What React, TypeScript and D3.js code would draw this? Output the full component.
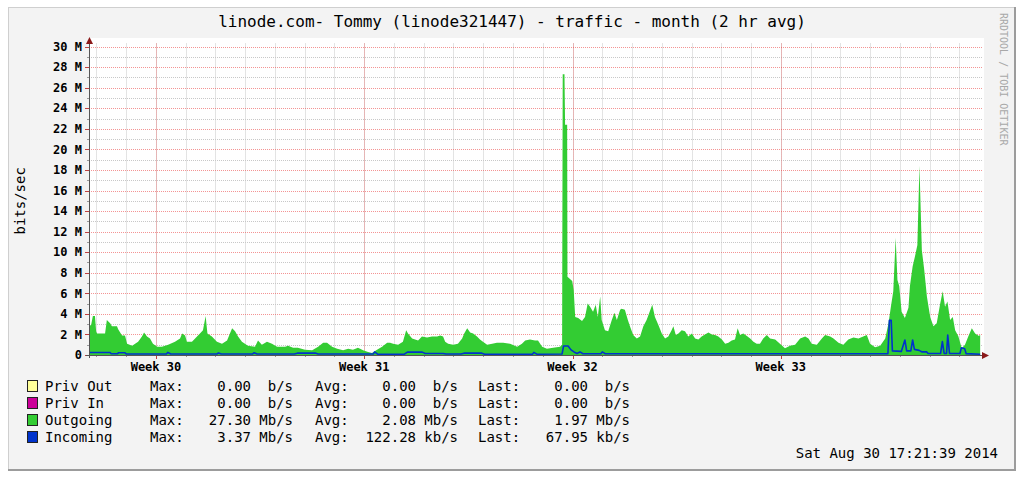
import React from "react";
import * as d3 from "d3";

const title = "linode.com- Tommy (linode321447) - traffic - month (2 hr avg)";
const yLabel = "bits/sec";
const watermark = "RRDTOOL / TOBI OETIKER";
const dateText = "Sat Aug 30 17:21:39 2014";

// y ticks in Mbit/s
const yMajorTicks = [0, 2, 4, 6, 8, 10, 12, 14, 16, 18, 20, 22, 24, 26, 28, 30];
const yMinorTicks = [1, 3, 5, 7, 9, 11, 13, 15, 17, 19, 21, 23, 25, 27, 29];

// time axis in days since start of graph
const weekLabels = ["Week 30", "Week 31", "Week 32", "Week 33"];
const weekStarts = [2.25, 9.25, 16.25, 23.25];
const dayStarts = [
  0.25, 1.25, 2.25, 3.25, 4.25, 5.25, 6.25, 7.25, 8.25, 9.25, 10.25, 11.25, 12.25, 13.25, 14.25,
  15.25, 16.25, 17.25, 18.25, 19.25, 20.25, 21.25, 22.25, 23.25, 24.25, 25.25, 26.25, 27.25,
  28.25, 29.25,
];

// Outgoing traffic [day, Mb/s]
const outgoing: [number, number][] = [
  [0, 2.9], [0.07, 2.9], [0.13, 3.8], [0.2, 3.8], [0.24, 2.3], [0.27, 2.1], [0.54, 2.1], [0.6, 3.4],
  [0.71, 3.1], [0.77, 2.8], [0.94, 2.8], [0.98, 2.5], [1.11, 1.9], [1.21, 1.9], [1.28, 1.1], [1.45, 0.9],
  [1.55, 1.1], [1.65, 1.3], [1.78, 1.8], [1.85, 2.2], [1.95, 1.8], [2.05, 1.6], [2.15, 1.1], [2.29, 0.8],
  [2.45, 0.8], [2.66, 1.0], [2.89, 1.3], [3.06, 1.6], [3.13, 2.1], [3.23, 1.9], [3.29, 1.3], [3.46, 1.3],
  [3.63, 1.8], [3.73, 2.1], [3.83, 2.4], [3.92, 3.8], [3.98, 2.1], [4.13, 1.8], [4.3, 1.3], [4.47, 1.1],
  [4.64, 1.4], [4.81, 2.6], [4.91, 2.3], [5.01, 1.8], [5.14, 1.3], [5.34, 0.9], [5.58, 0.8], [5.68, 1.4],
  [5.81, 1.0], [5.98, 1.3], [6.15, 1.1], [6.32, 0.8], [6.59, 0.8], [6.69, 0.9], [6.86, 0.7], [7.02, 0.7],
  [7.26, 0.5], [7.5, 0.45], [7.7, 0.8], [7.87, 1.2], [8.0, 1.2], [8.17, 0.8], [8.34, 0.6], [8.54, 0.45],
  [8.71, 0.6], [8.87, 0.5], [9.04, 0.7], [9.21, 0.45], [9.38, 0.3], [9.51, 0.2], [9.68, 0.5], [9.85, 0.8],
  [10.02, 1.2], [10.12, 1.2], [10.22, 1.1], [10.39, 1.0], [10.55, 1.3], [10.66, 2.4], [10.72, 2.1],
  [10.86, 1.6], [10.96, 1.5], [11.06, 1.4], [11.19, 1.8], [11.36, 1.7], [11.53, 1.8], [11.7, 1.8],
  [11.8, 1.9], [11.9, 1.8], [11.97, 1.3], [12.07, 1.1], [12.24, 1.0], [12.4, 1.1], [12.54, 1.6],
  [12.61, 2.1], [12.71, 2.6], [12.81, 2.2], [12.91, 2.1], [13.04, 1.8], [13.14, 1.5], [13.24, 1.3],
  [13.38, 1.0], [13.55, 1.1], [13.71, 1.2], [13.92, 1.2], [14.15, 1.1], [14.39, 0.8], [14.55, 1.1],
  [14.66, 1.4], [14.82, 1.5], [14.99, 1.4], [15.09, 1.4], [15.23, 0.8], [15.39, 0.6], [15.6, 0.7],
  [15.83, 0.8], [15.9, 1.0], [15.92, 27.3], [15.98, 27.3], [16.0, 22.4], [16.07, 22.4], [16.08, 7.6],
  [16.24, 7.2], [16.29, 6.3], [16.34, 3.7], [16.44, 3.6], [16.57, 3.3], [16.67, 3.7], [16.76, 5.0],
  [16.84, 4.7], [16.94, 4.2], [17.03, 4.9], [17.1, 3.7], [17.18, 5.7], [17.23, 3.4], [17.34, 2.4],
  [17.45, 2.3], [17.57, 3.4], [17.66, 4.1], [17.74, 3.4], [17.85, 4.4], [17.9, 4.5], [18.01, 4.4],
  [18.11, 3.4], [18.18, 2.8], [18.29, 1.95], [18.41, 1.6], [18.52, 1.8], [18.63, 2.8], [18.74, 3.4],
  [18.83, 4.1], [18.93, 4.9], [19.02, 3.7], [19.14, 2.9], [19.25, 2.1], [19.36, 1.6], [19.47, 1.8],
  [19.58, 2.4], [19.64, 2.8], [19.72, 1.95], [19.81, 2.1], [19.92, 2.4], [20.03, 2.3], [20.14, 1.8],
  [20.26, 2.1], [20.37, 1.6], [20.48, 1.5], [20.59, 1.8], [20.7, 2.0], [20.82, 2.2], [20.93, 2.0],
  [21.04, 1.95], [21.15, 1.8], [21.27, 1.5], [21.38, 1.1], [21.49, 1.2], [21.6, 1.4], [21.71, 1.5],
  [21.8, 2.6], [21.88, 1.95], [21.99, 2.1], [22.11, 1.85], [22.22, 1.6], [22.33, 1.3], [22.44, 1.1],
  [22.55, 1.1], [22.66, 1.6], [22.78, 1.95], [22.89, 1.6], [23.06, 1.5], [23.26, 1.0], [23.39, 0.65],
  [23.56, 0.9], [23.73, 1.0], [23.9, 1.6], [24.07, 1.8], [24.18, 1.6], [24.29, 1.1], [24.46, 1.0],
  [24.63, 1.6], [24.74, 1.95], [24.91, 1.8], [25.02, 1.6], [25.19, 1.2], [25.35, 1.0], [25.52, 1.5],
  [25.69, 1.7], [25.86, 1.6], [26.02, 1.8], [26.14, 1.95], [26.25, 1.1], [26.42, 0.75], [26.59, 0.9],
  [26.76, 1.6], [26.87, 3.1], [26.95, 4.7], [27.03, 6.2], [27.11, 11.4], [27.17, 7.3], [27.23, 6.7],
  [27.31, 4.2], [27.42, 3.6], [27.54, 4.6], [27.59, 6.7], [27.68, 8.6], [27.76, 9.6], [27.84, 10.7],
  [27.91, 18.4], [27.99, 10.2], [28.07, 8.3], [28.16, 5.7], [28.27, 3.7], [28.38, 2.8], [28.49, 3.1],
  [28.6, 4.9], [28.69, 6.2], [28.77, 4.7], [28.85, 5.2], [28.94, 3.4], [29.03, 3.7], [29.11, 2.4],
  [29.22, 1.8], [29.33, 0.65], [29.44, 1.0], [29.55, 1.8], [29.67, 2.6], [29.78, 2.1], [29.91, 1.85],
  [29.95, 1.97],
];

// Incoming traffic [day, Mb/s]
const incoming: [number, number][] = [
  [0, 0.25], [0.7, 0.25], [0.75, 0.12], [0.95, 0.12], [1.0, 0.22], [1.2, 0.22], [1.25, 0.1],
  [2.6, 0.1], [2.65, 0.25], [2.75, 0.1], [4.3, 0.1], [4.35, 0.2], [4.45, 0.1], [5.5, 0.1], [5.55, 0.22],
  [5.65, 0.1], [6.9, 0.1], [7.0, 0.18], [7.6, 0.2], [7.7, 0.1], [9.55, 0.1], [9.6, 0.3], [9.7, 0.08],
  [10.6, 0.08], [10.7, 0.28], [11.2, 0.28], [11.3, 0.15], [11.9, 0.15], [12.0, 0.1], [12.5, 0.1],
  [12.6, 0.18], [13.2, 0.18], [13.3, 0.08], [14.9, 0.08], [14.95, 0.25], [15.05, 0.08], [15.9, 0.1],
  [15.95, 0.88], [16.1, 0.88], [16.2, 0.5], [16.3, 0.3], [16.4, 0.15], [16.5, 0.3], [16.6, 0.12],
  [17.2, 0.12], [17.25, 0.3], [17.35, 0.12], [26.85, 0.13], [26.9, 3.37], [26.96, 3.37], [27.0, 0.4],
  [27.3, 0.35], [27.42, 1.46], [27.48, 0.4], [27.62, 0.4], [27.68, 1.46], [27.74, 0.55], [27.9, 0.45],
  [28.0, 0.3], [28.15, 0.3], [28.2, 0.15], [28.62, 0.15], [28.68, 1.3], [28.74, 0.15], [28.82, 0.15],
  [28.86, 1.95], [28.92, 0.15], [29.27, 0.15], [29.32, 0.7], [29.43, 0.6], [29.48, 0.13], [29.95, 0.07],
];

// Legend
const legendNames = ["Priv Out", "Priv In", "Outgoing", "Incoming"];
const legendColors = ["#ffff99", "#cc0099", "#33cc33", "#0033cc"];
const maxValues = [0.0, 0.0, 27.3, 3.37];
const maxUnits = ["b/s", "b/s", "Mb/s", "Mb/s"];
const avgValues = [0.0, 0.0, 2.08, 122.28];
const avgUnits = ["b/s", "b/s", "Mb/s", "kb/s"];
const lastValues = [0.0, 0.0, 1.97, 67.95];
const lastUnits = ["b/s", "b/s", "Mb/s", "kb/s"];

const FONT = "'DejaVu Sans Mono', 'Liberation Mono', monospace";

export default function App() {
  const x = d3.scaleLinear().domain([0, 30]).range([89, 981.65]);
  const y = d3.scaleLinear().domain([0, 30]).range([355, 46.6]);
  const gx0 = 89;
  const gx1 = 982;
  const gy0 = 355;
  const gyTop = y(30.3);

  const area = d3
    .area<[number, number]>()
    .x((d) => x(d[0]))
    .y0(y(0))
    .y1((d) => y(d[1]));
  const line = d3
    .line<[number, number]>()
    .x((d) => x(d[0]))
    .y((d) => y(d[1]));

  const minorGrid = "#c8c8c8";
  const majorGrid = "rgba(235,60,60,0.55)";
  const fmt = d3.format(".2f");
  const rowY = [391, 408, 425, 442];

  return (
    <svg
      width={1024}
      height={480}
      style={{ position: "absolute", left: 0, top: 0 }}
      fontFamily={FONT}
    >
      <rect x={0} y={0} width={1024} height={480} fill="#ffffff" />
      <rect x={8} y={7} width={1008} height={464} fill="#f3f3f3" />
      {/* frame */}
      <line x1={8} y1={7.5} x2={1016} y2={7.5} stroke="#cfcfcf" strokeWidth={1} />
      <line x1={8.5} y1={7} x2={8.5} y2={471} stroke="#cfcfcf" strokeWidth={1} />
      <line x1={8} y1={470} x2={1016} y2={470} stroke="#9c9c9c" strokeWidth={2} />
      <line x1={1015} y1={7} x2={1015} y2={471} stroke="#9c9c9c" strokeWidth={2} />

      {/* canvas */}
      <rect x={gx0} y={38} width={gx1 - gx0 + 2} height={gy0 - 38} fill="#ffffff" />

      {/* title */}
      <text x={512} y={27} textAnchor="middle" fontSize={16} fill="#000">
        {title}
      </text>

      {/* watermark */}
      <text
        transform="translate(1000,13) rotate(90)"
        fontSize={10}
        fill="#a8a8a8"
      >
        {watermark}
      </text>

      {/* minor horizontal grid */}
      {yMinorTicks.map((v) => (
        <line
          key={"hm" + v}
          x1={gx0}
          x2={gx1}
          y1={Math.round(y(v)) + 0.5}
          y2={Math.round(y(v)) + 0.5}
          stroke={minorGrid}
          strokeDasharray="1,1"
        />
      ))}
      {/* minor vertical grid */}
      {dayStarts.map((d) => (
        <line
          key={"vm" + d}
          x1={Math.round(x(d)) + 0.5}
          x2={Math.round(x(d)) + 0.5}
          y1={gyTop}
          y2={gy0}
          stroke={minorGrid}
          strokeDasharray="1,1"
        />
      ))}
      {/* major horizontal grid */}
      {yMajorTicks.map((v) => (
        <line
          key={"hM" + v}
          x1={gx0}
          x2={gx1}
          y1={Math.round(y(v)) + 0.5}
          y2={Math.round(y(v)) + 0.5}
          stroke={majorGrid}
          strokeDasharray="1,1"
        />
      ))}
      {/* major vertical grid */}
      {weekStarts.map((d) => (
        <line
          key={"vM" + d}
          x1={Math.round(x(d)) + 0.5}
          x2={Math.round(x(d)) + 0.5}
          y1={gyTop}
          y2={gy0}
          stroke={majorGrid}
          strokeDasharray="1,1"
        />
      ))}

      {/* data */}
      <path d={area(outgoing) || ""} fill="#33cc33" />
      <path d={line(incoming) || ""} fill="none" stroke="#0033cc" strokeWidth={1.6} strokeLinejoin="round" />

      {/* y ticks */}
      {yMajorTicks.map((v) => (
        <g key={"yt" + v}>
          <line x1={85} x2={89} y1={Math.round(y(v)) + 0.5} y2={Math.round(y(v)) + 0.5} stroke="#c04040" />
          <text
            x={82}
            y={y(v)}
            dy="0.35em"
            textAnchor="end"
            fontSize={12}
            fontWeight="bold"
            fill="#000"
          >
            {v === 0 ? "0" : `${v} M`}
          </text>
        </g>
      ))}
      {yMinorTicks.map((v) => (
        <line key={"ytm" + v} x1={87} x2={89} y1={Math.round(y(v)) + 0.5} y2={Math.round(y(v)) + 0.5} stroke="#999" />
      ))}
      {/* x ticks */}
      {dayStarts.map((d) => (
        <line key={"xtm" + d} x1={Math.round(x(d)) + 0.5} x2={Math.round(x(d)) + 0.5} y1={355} y2={357} stroke="#999" />
      ))}
      {weekStarts.map((d, i) => (
        <g key={"xt" + d}>
          <line x1={Math.round(x(d)) + 0.5} x2={Math.round(x(d)) + 0.5} y1={355} y2={359} stroke="#c04040" />
          <text x={x(d)} y={371} textAnchor="middle" fontSize={12} fontWeight="bold" fill="#000">
            {weekLabels[i]}
          </text>
        </g>
      ))}

      {/* axes */}
      <line x1={89.5} x2={89.5} y1={358} y2={42} stroke="#555" strokeWidth={1} />
      <path d="M86,44 L89.5,37 L93,44 Z" fill="#8b1a1a" />
      <line x1={86} x2={984} y1={355.5} y2={355.5} stroke="#555" strokeWidth={1} />
      <path d="M982,352 L989,355.5 L982,359 Z" fill="#8b1a1a" />

      {/* y label */}
      <text
        transform={`translate(25,${y(15)}) rotate(-90)`}
        textAnchor="middle"
        fontSize={14}
        fill="#000"
      >
        {yLabel}
      </text>

      {/* legend */}
      {legendNames.map((name, i) => (
        <g key={name} fontSize={14} fill="#000">
          <rect x={27.5} y={rowY[i] - 10.5} width={10} height={11} fill={legendColors[i]} stroke="#222" strokeWidth={1} />
          <text x={45} y={rowY[i]}>{name}</text>
          <text x={150} y={rowY[i]}>Max:</text>
          <text x={251} y={rowY[i]} textAnchor="end">{fmt(maxValues[i])}</text>
          <text x={293} y={rowY[i]} textAnchor="end">{maxUnits[i]}</text>
          <text x={315} y={rowY[i]}>Avg:</text>
          <text x={416} y={rowY[i]} textAnchor="end">{fmt(avgValues[i])}</text>
          <text x={458} y={rowY[i]} textAnchor="end">{avgUnits[i]}</text>
          <text x={478} y={rowY[i]}>Last:</text>
          <text x={588} y={rowY[i]} textAnchor="end">{fmt(lastValues[i])}</text>
          <text x={630} y={rowY[i]} textAnchor="end">{lastUnits[i]}</text>
        </g>
      ))}

      {/* date */}
      <text x={998} y={458} textAnchor="end" fontSize={14} fill="#000">
        {dateText}
      </text>
    </svg>
  );
}
